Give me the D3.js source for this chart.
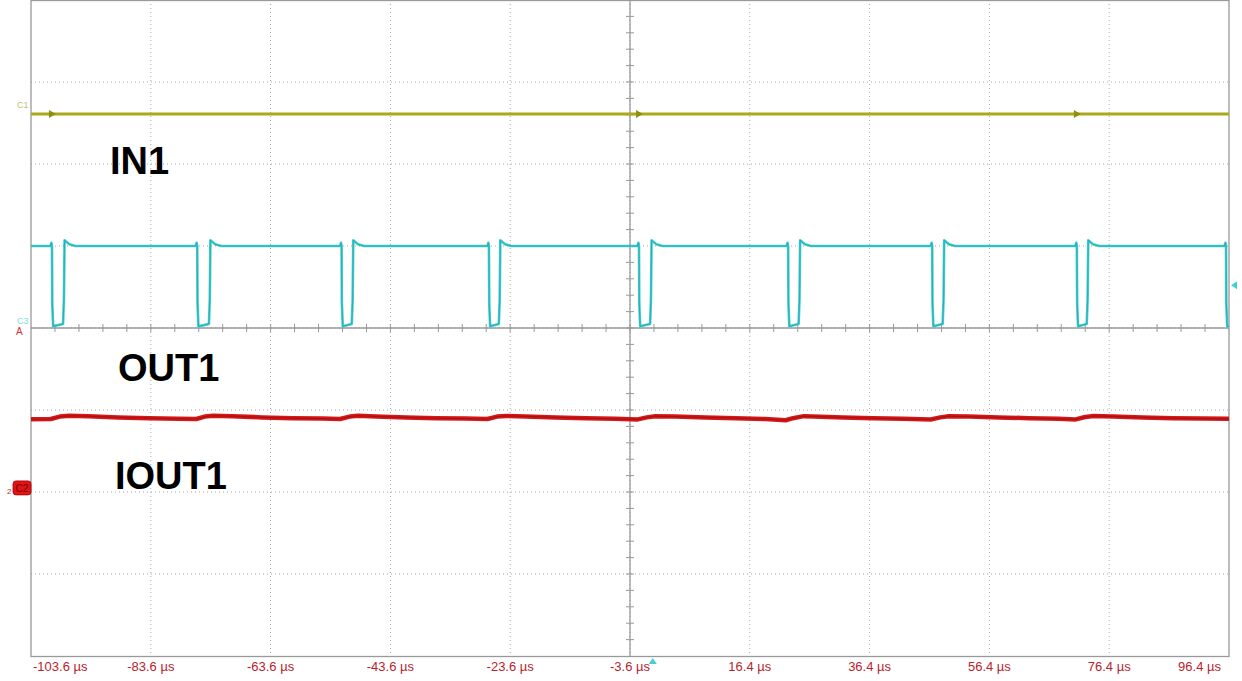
<!DOCTYPE html>
<html>
<head>
<meta charset="utf-8">
<script src="https://cdn.jsdelivr.net/npm/d3@7"></script>
<style>
  body { margin: 0; background: #fff; }
  svg { display: block; font-family: "Liberation Sans", Arial, sans-serif; }
</style>
</head>
<body>
<script>
// time axis (µs) and screen divisions
let tickLabels = ["-103.6 µs", "-83.6 µs", "-63.6 µs", "-43.6 µs", "-23.6 µs",
    "-3.6 µs", "16.4 µs", "36.4 µs", "56.4 µs", "76.4 µs", "96.4 µs"];
let tickTimes = [-103.6, -83.6, -63.6, -43.6, -23.6, -3.6, 16.4, 36.4, 56.4, 76.4, 96.4];

// C3 (OUT1) edges, µs
let fallTimes = [-100.1, -75.85, -51.75, -27.15, -2.1, 22.8, 46.85, 71.0, 95.9];
let riseTimes = [-98.0, -73.65, -49.8, -25.25, 0.0, 24.8, 48.85, 72.9];
let outHigh = 1.0, outLow = 0.02;   // divisions

// C1 (IN1) flat level, divisions
let inTimes = [-103.6, 96.4];
let inValues = [2.61, 2.61];

// IOUT1 trace, divisions
let ioutTimes = [-103.6, -100.3, -98.8, -97.2, -94, -89, -84, -79, -76.0, -74.6, -73.2, -70,
    -65, -60, -55, -52.0, -50.4, -49.0, -46, -41, -36, -31, -27.4, -25.8, -24.3, -21,
    -16, -11, -6, -2.3, -0.8, 0.6, 4, 9, 14, 19, 22.4, 23.6, 25.4, 27, 32, 37, 42,
    46.6, 48.2, 49.6, 53, 58, 63, 68, 70.8, 72.4, 73.8, 77, 82, 87, 92, 96.4];
let ioutValues = [-1.113, -1.11, -1.08, -1.07, -1.075, -1.09, -1.10, -1.107, -1.11, -1.08, -1.07, -1.075,
    -1.09, -1.10, -1.105, -1.11, -1.08, -1.07, -1.078, -1.09, -1.10, -1.105, -1.11, -1.08, -1.072, -1.078,
    -1.09, -1.10, -1.108, -1.115, -1.09, -1.075, -1.08, -1.09, -1.10, -1.11, -1.125, -1.10, -1.075, -1.078, -1.09, -1.10, -1.108,
    -1.115, -1.09, -1.075, -1.08, -1.09, -1.10, -1.108, -1.115, -1.085, -1.072, -1.078, -1.09, -1.10, -1.105, -1.108];

let markerTimes = [-100.1, -2.1, 71.0];

let width = 1242, height = 681;
let plotLeft = 31, plotRight = 1229, plotTop = 0, plotBottom = 656;

let x = d3.scaleLinear().domain([-103.6, 96.4]).range([plotLeft, plotRight]);
let y = d3.scaleLinear().domain([-4, 4]).range([plotBottom, plotTop]);

let svg = d3.select("body").append("svg")
    .attr("width", width)
    .attr("height", height);

// dotted grid
let grid = svg.append("g");
grid.selectAll("line.v")
    .data(d3.range(1, 10))
    .enter().append("line")
    .attr("x1", d => x(-103.6 + d * 20)).attr("x2", d => x(-103.6 + d * 20))
    .attr("y1", plotTop).attr("y2", plotBottom)
    .attr("stroke", "#a8a8a8").attr("stroke-dasharray", "1,3");
grid.selectAll("line.h")
    .data(d3.range(-3, 4))
    .enter().append("line")
    .attr("x1", plotLeft).attr("x2", plotRight)
    .attr("y1", d => y(d)).attr("y2", d => y(d))
    .attr("stroke", "#a8a8a8").attr("stroke-dasharray", "1,3");

// centre crosshair with minor ticks
let cx = x(-3.6), cy = y(0);
grid.append("line").attr("x1", cx).attr("x2", cx).attr("y1", plotTop).attr("y2", plotBottom)
    .attr("stroke", "#999").attr("stroke-width", 1.3);
grid.append("line").attr("x1", plotLeft).attr("x2", plotRight).attr("y1", cy).attr("y2", cy)
    .attr("stroke", "#999").attr("stroke-width", 1.3);
grid.selectAll("line.tx")
    .data(d3.range(1, 50))
    .enter().append("line")
    .attr("x1", d => x(-103.6 + d * 4)).attr("x2", d => x(-103.6 + d * 4))
    .attr("y1", cy - 4).attr("y2", cy + 4)
    .attr("stroke", "#999");
grid.selectAll("line.ty")
    .data(d3.range(1, 40))
    .enter().append("line")
    .attr("x1", cx - 4).attr("x2", cx + 4)
    .attr("y1", d => y(-4 + d * 0.2)).attr("y2", d => y(-4 + d * 0.2))
    .attr("stroke", "#999");

// frame
svg.append("rect")
    .attr("x", plotLeft).attr("y", plotTop + 0.5)
    .attr("width", plotRight - plotLeft).attr("height", plotBottom - plotTop)
    .attr("fill", "none").attr("stroke", "#999").attr("stroke-width", 1.3);

let line = d3.line().x(d => x(d[0])).y(d => y(d[1]));

// C1 trace
svg.append("path")
    .attr("d", line(inTimes.map((t, i) => [t, inValues[i]])))
    .attr("fill", "none").attr("stroke", "#a9a91a").attr("stroke-width", 3);
svg.selectAll("path.mk")
    .data(markerTimes)
    .enter().append("path")
    .attr("d", d => `M${x(d) - 3},${y(2.61) - 4} L${x(d) + 4},${y(2.61)} L${x(d) - 3},${y(2.61) + 4} Z`)
    .attr("fill", "#8f8f10");

// C3 trace
let outPts = [[-103.6, outHigh]];
fallTimes.forEach((f, i) => {
    outPts.push([f - 0.25, outHigh], [f - 0.1, outHigh + 0.04], [f, outHigh],
        [f + 0.05, 0.3], [f + 0.2, outLow]);
    let r = riseTimes[i];
    if (r !== undefined) {
        outPts.push([r - 0.25, outLow + 0.03], [r - 0.1, 0.35], [r, outHigh + 0.07],
            [r + 0.8, outHigh + 0.02], [r + 1.8, outHigh]);
    } else {
        outPts.push([96.4, outLow]);
    }
});
svg.append("path")
    .attr("d", line(outPts))
    .attr("fill", "none").attr("stroke", "#3fd2d4").attr("stroke-width", 2.6)
    .attr("stroke-linejoin", "round");
svg.append("path")
    .attr("d", line(outPts))
    .attr("fill", "none").attr("stroke", "#2a9fa6").attr("stroke-width", 0.8);

// IOUT trace
svg.append("path")
    .attr("d", line(ioutTimes.map((t, i) => [t, ioutValues[i]])))
    .attr("fill", "none").attr("stroke", "#d21a1a").attr("stroke-width", 4.5)
    .attr("stroke-linejoin", "round");
svg.append("path")
    .attr("d", line(ioutTimes.map((t, i) => [t, ioutValues[i]])))
    .attr("fill", "none").attr("stroke", "#b00d0d").attr("stroke-width", 1.2);

// channel markers on the left
svg.append("text").attr("x", 17).attr("y", y(2.61) - 6)
    .attr("font-size", 9).attr("fill", "#c2c270").text("C1");
svg.append("text").attr("x", 17).attr("y", y(0) - 4)
    .attr("font-size", 9).attr("fill", "#7fdde0").text("C3");
svg.append("text").attr("x", 16).attr("y", y(0) + 7)
    .attr("font-size", 10).attr("fill", "#d03030").text("A");
svg.append("rect").attr("x", 13).attr("y", y(-1.95) - 7)
    .attr("width", 18).attr("height", 14).attr("rx", 3)
    .attr("fill", "#e01414").attr("stroke", "#a00").attr("stroke-width", 0.8);
svg.append("text").attr("x", 22).attr("y", y(-1.95) + 4)
    .attr("text-anchor", "middle").attr("font-size", 10).attr("fill", "#700").text("C2");
svg.append("text").attr("x", 7).attr("y", y(-1.95) + 6)
    .attr("font-size", 8).attr("fill", "#c03030").text("2");

// trigger markers
svg.append("path")
    .attr("d", `M${plotRight + 2},${y(0.52)} L${plotRight + 8},${y(0.52) - 4} L${plotRight + 8},${y(0.52) + 4} Z`)
    .attr("fill", "#3fd2d4");
svg.append("path")
    .attr("d", `M${x(0.2)},${plotBottom + 2} L${x(0.2) + 4},${plotBottom + 8} L${x(0.2) - 4},${plotBottom + 8} Z`)
    .attr("fill", "#3fd2d4");

// time labels
svg.selectAll("text.tick")
    .data(tickTimes)
    .enter().append("text")
    .attr("x", (d, i) => i === 0 ? plotLeft + 2 : (i === tickTimes.length - 1 ? plotRight - 8 : x(d)))
    .attr("y", 671)
    .attr("text-anchor", (d, i) => i === 0 ? "start" : (i === tickTimes.length - 1 ? "end" : "middle"))
    .attr("font-size", 13)
    .attr("fill", "#b8232c")
    .text((d, i) => tickLabels[i]);

// signal names
let names = [["IN1", 110, 174], ["OUT1", 118, 381], ["IOUT1", 115, 489]];
svg.selectAll("text.name")
    .data(names)
    .enter().append("text")
    .attr("x", d => d[1]).attr("y", d => d[2])
    .attr("font-size", 38).attr("font-weight", "bold").attr("fill", "#000")
    .text(d => d[0]);
</script>
</body>
</html>
